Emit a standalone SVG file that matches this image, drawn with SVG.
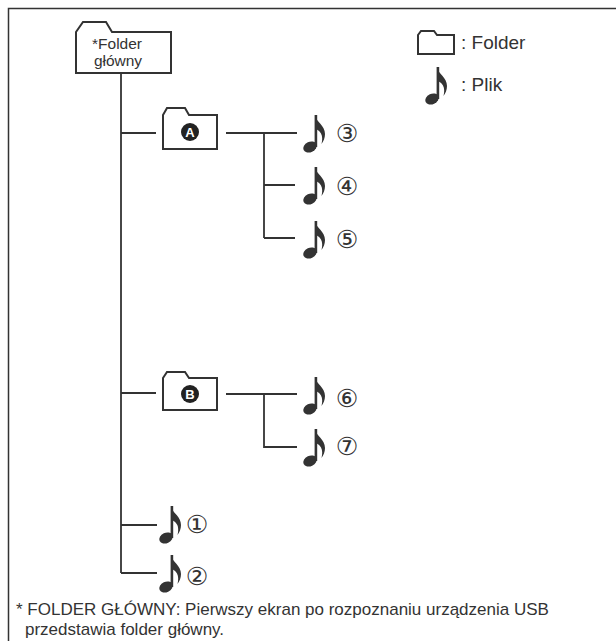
<svg xmlns="http://www.w3.org/2000/svg" width="616" height="641" viewBox="0 0 616 641">
<style>
.ln{stroke:#333;stroke-width:1.8;fill:none}
.fd{stroke:#333;stroke-width:2;fill:#fff;stroke-linejoin:miter}
.t{font-family:"Liberation Sans",Arial,sans-serif;fill:#333}
.num{font-family:"DejaVu Sans","Noto Sans CJK JP",sans-serif;fill:#333;font-size:25px;text-anchor:middle}
.badge{fill:#222}
.bl{font-family:"Liberation Sans",Arial,sans-serif;fill:#fff;font-size:13px;font-weight:bold;text-anchor:middle}
</style>
<defs>
<g id="note">
<ellipse cx="8" cy="32" rx="7" ry="5.2" transform="rotate(-25 8 32)" fill="#333"/>
<rect x="12.6" y="0" width="2.6" height="32" fill="#333"/>
<path d="M13,0 C14,7 23,10 23,19 C23,23 21.5,26 19.5,29 C20.5,25 20.5,21 19,18.5 C17.5,16 15.5,14.5 13,14 Z" fill="#333"/>
</g>
</defs>
<rect x="8.5" y="8.5" width="700" height="700" fill="none" stroke="#333" stroke-width="1.5"/>

<g id="connectors">
<path class="ln" d="M121,74 V573"/>
<path class="ln" d="M121,133 H156"/>
<path class="ln" d="M121,393 H156"/>
<path class="ln" d="M121,525 H157"/>
<path class="ln" d="M121,573 H157"/>
<path class="ln" d="M226,133 H297 M264,133 V238 M264,185 H295 M264,238 H295"/>
<path class="ln" d="M226,394 H297 M264,394 V447 H297"/>
</g>

<g id="root">
<path class="fd" d="M76,73 V32 L83,22 H106 L112,32 H171 V73 Z"/>
<text class="t" x="117" y="49" font-size="15.5" text-anchor="middle">*Folder</text>
<text class="t" x="118" y="66" font-size="15.5" text-anchor="middle">główny</text>
</g>

<g id="folderA">
<path class="fd" d="M163,149 V115 L167,108 H185 L189,115 H217 V149 Z"/>
<circle class="badge" cx="190" cy="132" r="9"/>
<text class="bl" x="190" y="137">A</text>
</g>

<g id="folderB">
<path class="fd" d="M163,410 V378 L167,372 H185 L189,378 H217 V410 Z"/>
<circle class="badge" cx="190" cy="394" r="9"/>
<text class="bl" x="190" y="399">B</text>
</g>

<g id="file3"><use href="#note" x="302" y="115"/><text class="num" x="347" y="142">③</text></g>
<g id="file4"><use href="#note" x="302" y="167"/><text class="num" x="347" y="195">④</text></g>
<g id="file5"><use href="#note" x="302" y="221"/><text class="num" x="347" y="248">⑤</text></g>
<g id="file6"><use href="#note" x="302" y="377"/><text class="num" x="347" y="407">⑥</text></g>
<g id="file7"><use href="#note" x="302" y="429"/><text class="num" x="347" y="455">⑦</text></g>
<g id="file1"><use href="#note" x="158" y="506"/><text class="num" x="197" y="533">①</text></g>
<g id="file2"><use href="#note" x="158" y="555"/><text class="num" x="197" y="585">②</text></g>

<g id="legend">
<path class="fd" d="M418,54 V35 L421,31 H434 L437,35 H454 V54 Z"/>
<text class="t" x="461" y="49" font-size="19">: Folder</text>
<use href="#note" x="424" y="67"/>
<text class="t" x="461" y="91" font-size="19">: Plik</text>
</g>

<g id="footnote">
<text class="t" x="16" y="615" font-size="17">* FOLDER GŁÓWNY: Pierwszy ekran po rozpoznaniu urządzenia USB</text>
<text class="t" x="25" y="635" font-size="17">przedstawia folder główny.</text>
</g>
</svg>
